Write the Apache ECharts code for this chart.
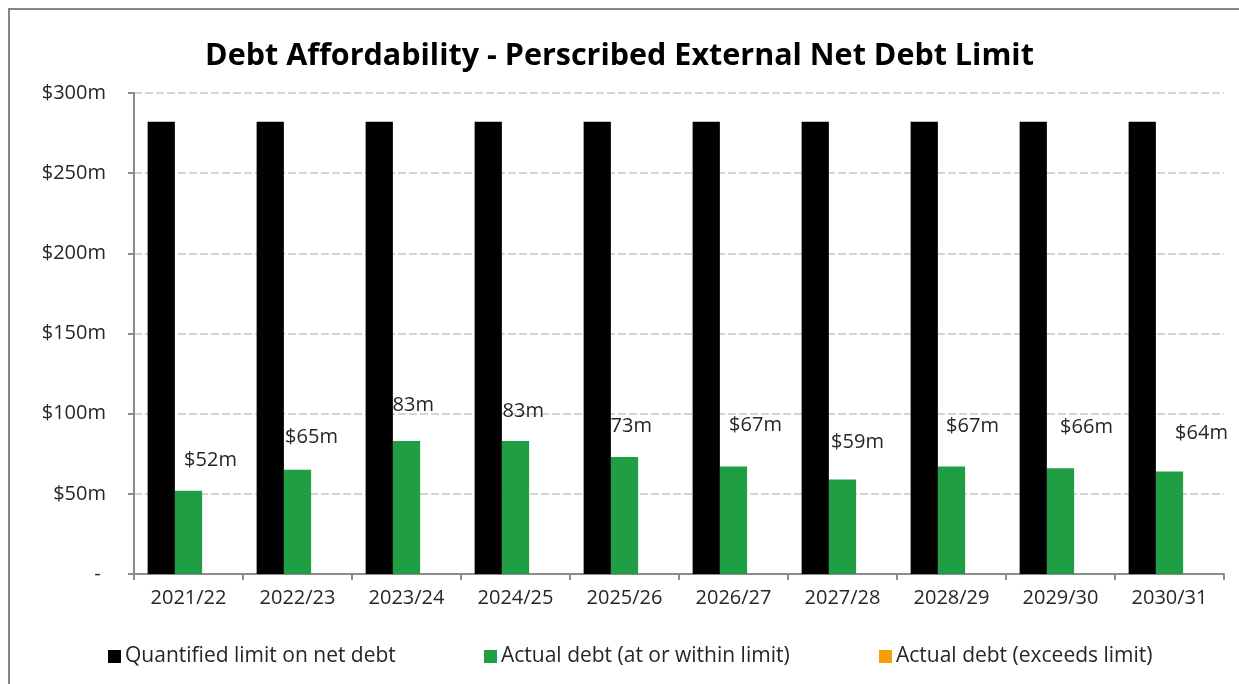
<!DOCTYPE html>
<html>
<head>
<meta charset="utf-8">
<title>Debt Affordability</title>
<script src="https://cdn.jsdelivr.net/npm/echarts@6/dist/echarts.min.js"></script>
<style>
  html, body { margin: 0; padding: 0; background: #fff; }
  #chart { width: 1239px; height: 684px; }
</style>
</head>
<body>
<div id="chart"></div>
<script>
// Financial years shown on the category axis
const years = ['2021/22', '2022/23', '2023/24', '2024/25', '2025/26',
               '2026/27', '2027/28', '2028/29', '2029/30', '2030/31'];

// Values in $ millions
const netDebtLimit = [282, 282, 282, 282, 282, 282, 282, 282, 282, 282];
const debtWithinLimit = [52, 65, 83, 83, 73, 67, 59, 67, 66, 64];
const debtExceedsLimit = [0, 0, 0, 0, 0, 0, 0, 0, 0, 0];

// Value axis ticks
const yMin = 0, yMax = 300, yStep = 50;

// Small hand nudges for the value labels so they sit like the spreadsheet's
const labelNudge = [[22, -15], [14, -17], [1, -21], [2, -15], [1, -16],
                    [22, -26], [15, -22], [21, -25], [26, -26], [32, -23]];

const FONT = '"Open Sans", "Noto Sans", sans-serif';
const TEXT = '#262626';

const chart = echarts.init(document.getElementById('chart'), null, { renderer: 'canvas' });

const legendBase = {
  top: 641,
  icon: 'rect',
  itemWidth: 13,
  itemHeight: 13,
  itemGap: 6,
  textStyle: { fontFamily: FONT, fontSize: 21, color: TEXT, padding: [0, 0, 0, -1] },
  selectedMode: false
};

chart.setOption({
  backgroundColor: '#ffffff',
  animation: false,
  title: {
    text: 'Debt Affordability - Perscribed External Net Debt Limit',
    left: 'center',
    top: 36,
    padding: [5, 0, 5, 10],
    textStyle: { fontFamily: FONT, fontWeight: 'bold', fontSize: 30.5, color: '#000' }
  },
  graphic: [{
    type: 'rect',
    shape: { x: 9, y: 9, width: 1300, height: 700 },
    style: { fill: 'none', stroke: '#858585', lineWidth: 2 },
    silent: true,
    z: 10
  }],
  legend: [
    Object.assign({}, legendBase, { left: 103, data: ['Quantified limit on net debt'] }),
    Object.assign({}, legendBase, { left: 479, data: ['Actual debt (at or within limit)'] }),
    Object.assign({}, legendBase, { left: 874, data: ['Actual debt (exceeds limit)'] })
  ],
  grid: { left: 134, right: 15, top: 93, bottom: 110, containLabel: false },
  xAxis: {
    type: 'category',
    data: years,
    axisLine: { lineStyle: { color: '#8c8c8c', width: 2 } },
    axisTick: { show: true, length: 6, alignWithLabel: false, lineStyle: { color: '#8c8c8c', width: 2 } },
    axisLabel: { fontFamily: FONT, fontSize: 20, color: TEXT, margin: 14 }
  },
  yAxis: {
    type: 'value',
    min: yMin,
    max: yMax,
    interval: yStep,
    axisLine: { show: true, lineStyle: { color: '#8c8c8c', width: 2 } },
    axisTick: { show: true, length: 6, lineStyle: { color: '#8c8c8c', width: 2 } },
    axisLabel: {
      fontFamily: FONT, fontSize: 20, color: TEXT, margin: 28,
      formatter: v => (v === 0 ? '- ' : '$' + v + 'm')
    },
    splitLine: { lineStyle: { color: '#d4d4d4', width: 2, type: [8, 3] } }
  },
  series: [
    {
      name: 'Quantified limit on net debt',
      type: 'bar',
      data: netDebtLimit,
      itemStyle: { color: '#000000' },
      barGap: '0%',
      barCategoryGap: '25%',
      z: 3
    },
    {
      name: 'Actual debt (at or within limit)',
      type: 'bar',
      data: debtWithinLimit.map((v, i) => ({
        value: v,
        label: { offset: labelNudge[i] }
      })),
      itemStyle: { color: '#1f9e43' },
      label: {
        show: true,
        position: 'top',
        fontFamily: FONT,
        fontSize: 20,
        color: TEXT,
        formatter: p => '$' + p.value + 'm'
      },
      z: 2
    },
    {
      name: 'Actual debt (exceeds limit)',
      type: 'bar',
      data: debtExceedsLimit,
      itemStyle: { color: '#f59d0a' },
      z: 2
    }
  ]
});
</script>
</body>
</html>
